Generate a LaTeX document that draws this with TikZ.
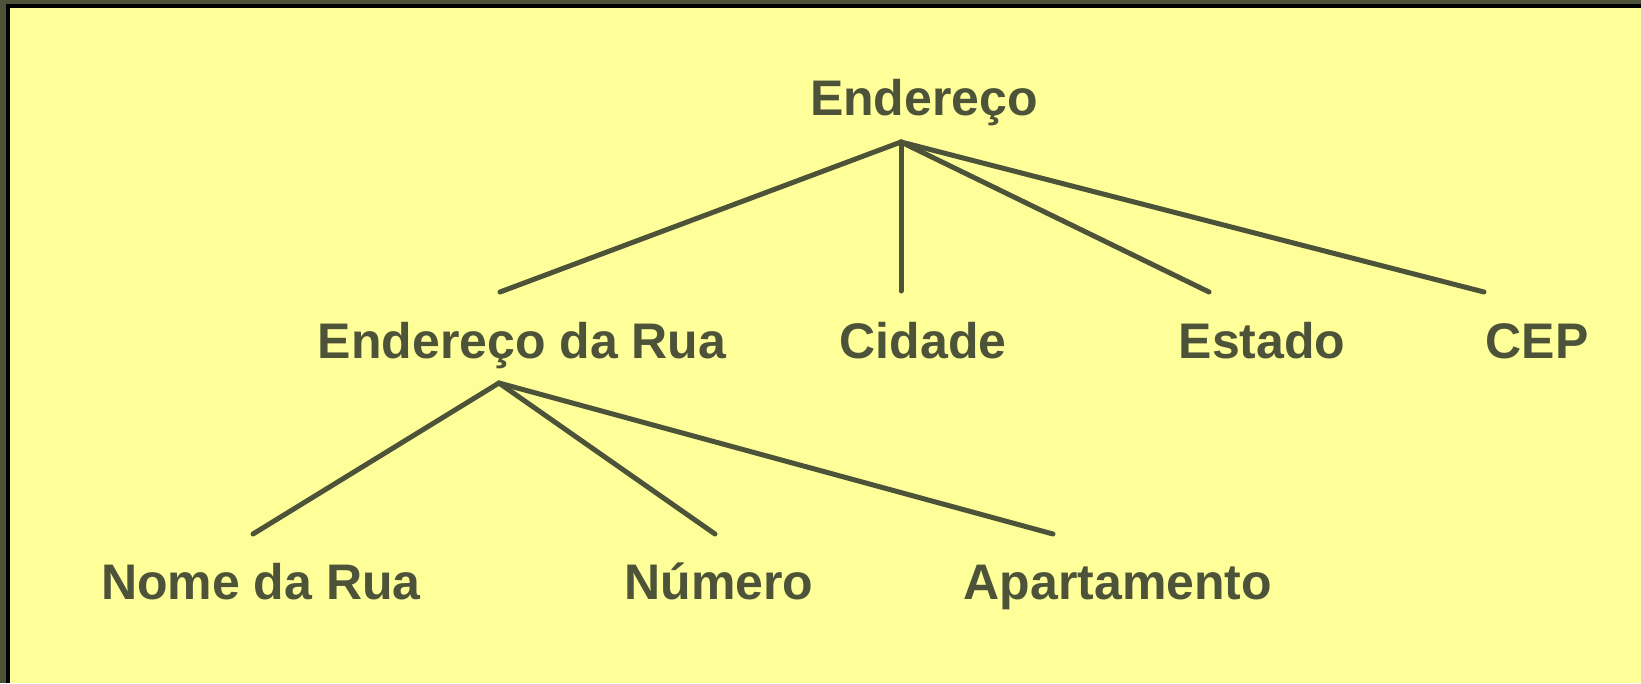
\documentclass[tikz,border=0pt]{standalone}
\usepackage{fontspec}
\setmainfont{Liberation Sans}
\definecolor{oliva}{HTML}{4C5339}
\definecolor{fundo}{HTML}{FFFF99}
\begin{document}
\begin{tikzpicture}[x=1pt, y=-1pt, line join=round, line cap=round,
        font=\fontsize{50}{60}\selectfont\bfseries, text=oliva,
        campo/.style={anchor=base, inner sep=0pt},
        ramo/.style={draw=oliva, line width=5pt}]
            \useasboundingbox (0,0) rectangle (1641,683);
            \fill[oliva] (0,0) rectangle (1641,683);
            \fill[black] (6,4) rectangle (1641,683);
            \fill[fundo] (10,8) rectangle (1641,683);
            % nos
            \node[campo] (endereco) at (924,115) {Endereço};
            \node[campo] (rua) at (522,358) {Endereço da Rua};
            \node[campo] (cidade) at (923,358) {Cidade};
            \node[campo] (estado) at (1262,358) {Estado};
            \node[campo] (cep) at (1537,358) {CEP};
            \node[campo] (nome) at (261,599) {Nome da Rua};
            \node[campo] (numero) at (719,599) {Número};
            \node[campo] (apto) at (1118,599) {Apartamento};
            % pontas dos ramos
            \coordinate (endereco-s) at (901,142);
            \coordinate (rua-n) at (500,292);
            \coordinate (cidade-n) at (901,291);
            \coordinate (estado-n) at (1209,292);
            \coordinate (cep-n) at (1484,292);
            \coordinate (rua-s) at (499,383);
            \coordinate (nome-n) at (253,534);
            \coordinate (numero-n) at (715,534);
            \coordinate (apto-n) at (1053,534);
            \foreach \f in {rua,cidade,estado,cep}
            \draw[ramo] (endereco-s)--(\f-n);
            \foreach \f in {nome,numero,apto}
            \draw[ramo] (rua-s)--(\f-n);
    \end{tikzpicture}
\end{document}
